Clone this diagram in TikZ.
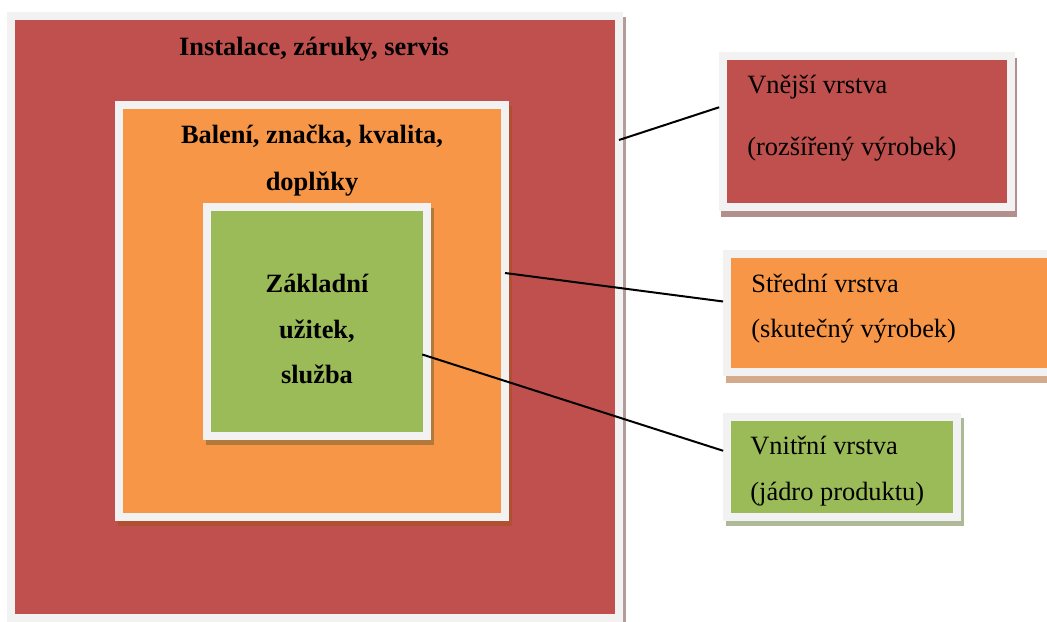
\documentclass[tikz,border=0pt]{standalone}
\usepackage{fontspec}
\setmainfont{Liberation Serif}
\usetikzlibrary{fit}
\definecolor{redf}{RGB}{192,80,77}
\definecolor{orgf}{RGB}{247,150,70}
\definecolor{grnf}{RGB}{155,187,89}
\definecolor{framecol}{RGB}{242,242,242}
\definecolor{shouter}{RGB}{180,155,156}
\definecolor{shmid}{RGB}{176,80,48}
\definecolor{shcore}{RGB}{178,122,58}
\definecolor{shrred}{RGB}{178,142,140}
\definecolor{shrorg}{RGB}{212,170,140}
\definecolor{shrgrn}{RGB}{175,185,150}
\begin{document}
\begin{tikzpicture}[x=0.5pt,y=-0.5pt,
  layerbox/.style={draw=framecol, line width=4pt, inner sep=0pt, outer sep=0pt},
  txt/.style={inner sep=0pt, font=\fontsize{13.2}{16}\selectfont},
  btxt/.style={inner sep=0pt, font=\fontsize{13.2}{16}\selectfont\bfseries},
  link/.style={draw=black, line width=1pt}]
\useasboundingbox[fill=white] (0,0) rectangle (1047,621);
% outer layer
\fill[shouter] (10,17) rectangle (626,627);
\node[layerbox, fill=redf, fit={(11,16) (619,618)}] (outer) {};
% middle layer
\fill[shmid] (118,106) rectangle (512,526);
\node[layerbox, fill=orgf, fit={(119,105) (505,517)}] (mid) {};
% core
\fill[shcore] (206,208) rectangle (434,445);
\node[layerbox, fill=grnf, fit={(207,207) (427,436)}] (core) {};
% legend boxes
\fill[shrred] (721,58) rectangle (1017,217);
\node[layerbox, fill=redf, fit={(723,56) (1011,207)}] (rred) {};
\fill[shrorg] (726,256) rectangle (1063,383);
\node[layerbox, fill=orgf, fit={(727,254) (1060,372)}] (rorg) {};
\fill[shrgrn] (726,418) rectangle (964,526);
\node[layerbox, fill=grnf, fit={(727,417) (957,517)}] (rgrn) {};
% connectors
\draw[link, shorten >=2pt] (outer.east |- 0,140) -- (rred.west |- 0,106);
\draw[link, shorten >=2pt] (mid.east |- 0,273) -- (rorg.west |- 0,302);
\draw[link, shorten <=-2.5pt, shorten >=2pt] (core.east |- 0,356) -- (rgrn.west |- 0,452);
% texts
\node[btxt, anchor=base] (t1) at (314,55) {Instalace, záruky, servis};
\node[btxt, anchor=base] (t2) at (312,143) {Balení, značka, kvalita,};
\node[btxt, anchor=base] (t3) at (312,190) {doplňky};
\node[btxt, anchor=base] (t4) at (317,292) {Základní};
\node[btxt, anchor=base] (t5) at (317,338) {užitek,};
\node[btxt, anchor=base] (t6) at (317,383) {služba};
\node[txt, anchor=base west] (l1) at (747,93) {Vnější vrstva};
\node[txt, anchor=base west] (l2) at (747,155) {(rozšířený výrobek)};
\node[txt, anchor=base west] (l3) at (751,292) {Střední vrstva};
\node[txt, anchor=base west] (l4) at (751,337) {(skutečný výrobek)};
\node[txt, anchor=base west] (l5) at (750,454) {Vnitřní vrstva};
\node[txt, anchor=base west] (l6) at (750,500) {(jádro produktu)};
\end{tikzpicture}
\end{document}
